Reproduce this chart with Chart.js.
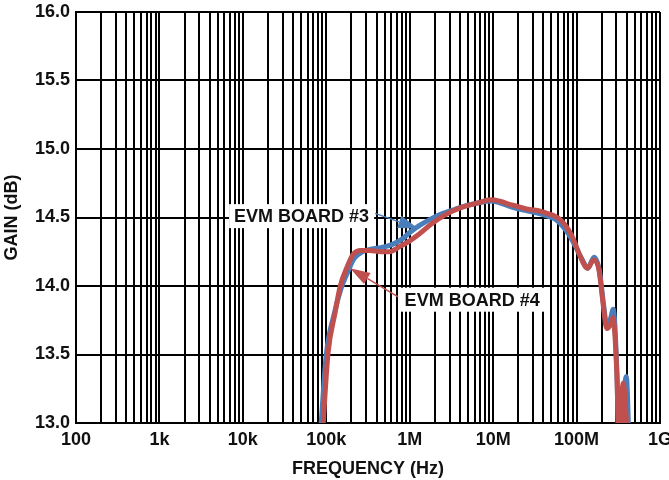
<!DOCTYPE html>
<html>
<head>
<meta charset="utf-8">
<script src="https://cdn.jsdelivr.net/npm/chart.js@4.4.1/dist/chart.umd.min.js"></script>
<style>
    html, body { margin: 0; padding: 0; background: #fff; }
</style>
</head>
<body>
<canvas id="grafico" width="669" height="480"></canvas>
<script>
//datos

const frecuenciasBoard3 = [84e3, 87e3, 100e3, 125e3, 150e3, 180e3, 215e3, 270e3, 350e3, 450e3, 600e3, 800e3, 1.0e6, 1.3e6, 1.8e6, 2.5e6, 3.5e6, 5e6, 7e6, 9.5e6, 13e6, 18e6, 25e6, 35e6, 45e6, 55e6, 65e6, 80e6, 95e6, 115e6, 137e6, 162e6, 188e6, 210e6, 232e6, 255e6, 275e6, 304e6, 322e6, 395e6, 425e6];
const gananciaBoard3 = [12.85, 13.0, 13.5, 13.8, 13.98, 14.1, 14.2, 14.25, 14.27, 14.28, 14.3, 14.34, 14.39, 14.44, 14.49, 14.53, 14.56, 14.59, 14.61, 14.62, 14.6, 14.57, 14.55, 14.53, 14.51, 14.49, 14.45, 14.38, 14.3, 14.2, 14.13, 14.21, 14.11, 13.87, 13.7, 13.76, 13.83, 13.38, 12.85, 13.34, 12.85];

const frecuenciasBoard4 = [89e3, 92e3, 105e3, 127e3, 147e3, 178e3, 209e3, 260e3, 330e3, 450e3, 560e3, 770e3, 1.0e6, 1.3e6, 1.8e6, 2.5e6, 4e6, 6.9e6, 9.1e6, 12e6, 15e6, 20e6, 26e6, 35e6, 44e6, 55e6, 65e6, 80e6, 92e6, 110e6, 135e6, 160e6, 185e6, 210e6, 230e6, 255e6, 272e6, 304e6, 322e6, 362e6, 410e6];
const gananciaBoard4 = [12.85, 13.0, 13.51, 13.8, 14.0, 14.14, 14.23, 14.26, 14.26, 14.25, 14.25, 14.29, 14.33, 14.38, 14.45, 14.51, 14.57, 14.61, 14.63, 14.62, 14.6, 14.58, 14.56, 14.55, 14.53, 14.51, 14.48, 14.41, 14.34, 14.22, 14.13, 14.19, 14.12, 13.85, 13.69, 13.72, 13.77, 13.36, 12.85, 13.29, 12.85];

const decadas = [1e2, 1e3, 1e4, 1e5, 1e6, 1e7, 1e8, 1e9];
const etiquetasX = ['100', '1k', '10k', '100k', '1M', '10M', '100M', '1G'];
const valoresY = [13.0, 13.5, 14.0, 14.5, 15.0, 15.5, 16.0];

const colorAzul = '#4a7ebb';
const colorRojo = '#c0504d';
const fuente = '"Liberation Sans", Arial, sans-serif';

//lineas de la grilla: 1..9 por cada decada
const grillaX = [];
decadas.forEach((d, i) => {
    if (i === decadas.length - 1) {
        grillaX.push(d);
        return;
    }
    for (let m = 1; m <= 9; m++) grillaX.push(m * d);
});

function armarPuntos(frecuencias, ganancias) {
    return frecuencias.map((f, i) => ({ x: f, y: ganancias[i] }));
}

//etiquetas con flecha (posiciones en unidades de datos)
const anotaciones = [
    { texto: 'EVM BOARD #3', color: colorAzul, etiqueta: [50.6e3, 14.51], desde: [385e3, 14.53], hasta: [1.26e6, 14.42] },
    { texto: 'EVM BOARD #4', color: colorRojo, etiqueta: [5.6e6, 13.9], desde: [726e3, 13.92], hasta: [193e3, 14.13] }
];

const pluginAnotaciones = {
    id: 'anotaciones',
    afterDatasetsDraw(chart) {
        const ctx = chart.ctx;
        const x = chart.scales.x;
        const y = chart.scales.y;
        ctx.save();
        ctx.font = 'bold 18px ' + fuente;
        anotaciones.forEach(a => {
            const cx = x.getPixelForValue(a.etiqueta[0]);
            const cy = y.getPixelForValue(a.etiqueta[1]);
            const ancho = ctx.measureText(a.texto).width;
            ctx.fillStyle = '#fff';
            ctx.fillRect(cx - ancho / 2 - 5, cy - 12, ancho + 10, 24);
            ctx.fillStyle = '#111';
            ctx.textAlign = 'center';
            ctx.textBaseline = 'middle';
            ctx.fillText(a.texto, cx, cy + 1);

            //flecha
            const x1 = x.getPixelForValue(a.desde[0]);
            const y1 = y.getPixelForValue(a.desde[1]);
            const x2 = x.getPixelForValue(a.hasta[0]);
            const y2 = y.getPixelForValue(a.hasta[1]);
            const ang = Math.atan2(y2 - y1, x2 - x1);
            const largo = 20;
            const medio = 6.5;
            const bx = x2 - largo * Math.cos(ang);
            const by = y2 - largo * Math.sin(ang);
            ctx.strokeStyle = a.color;
            ctx.lineWidth = 1.5;
            ctx.beginPath();
            ctx.moveTo(x1, y1);
            ctx.lineTo(bx, by);
            ctx.stroke();
            ctx.fillStyle = a.color;
            ctx.beginPath();
            ctx.moveTo(x2, y2);
            ctx.lineTo(bx + medio * Math.sin(ang), by - medio * Math.cos(ang));
            ctx.lineTo(bx - medio * Math.sin(ang), by + medio * Math.cos(ang));
            ctx.closePath();
            ctx.fill();
        });
        ctx.restore();
    }
};

const config = {
    type: 'line',
    data: {
        datasets: [{
            label: 'EVM BOARD #3',
            data: armarPuntos(frecuenciasBoard3, gananciaBoard3),
            borderColor: colorAzul,
            borderWidth: 5,
            pointRadius: 0,
            cubicInterpolationMode: 'monotone',
            fill: false,
            order: 2
        }, {
            label: 'EVM BOARD #4',
            data: armarPuntos(frecuenciasBoard4, gananciaBoard4),
            borderColor: colorRojo,
            borderWidth: 5,
            pointRadius: 0,
            cubicInterpolationMode: 'monotone',
            fill: false,
            order: 1
        }]
    },
    options: {
        responsive: false,
        animation: false,
        layout: { padding: { left: 0, right: 9, top: 12, bottom: 0 } },
        plugins: {
            legend: { display: false },
            tooltip: { enabled: false }
        },
        scales: {
            x: {
                type: 'logarithmic',
                min: 100,
                max: 1e9,
                afterBuildTicks: scale => {
                    scale.ticks = grillaX.map(v => ({ value: v }));
                },
                afterFit: scale => {
                    scale.height = 57;
                    scale.paddingLeft = 0;
                    scale.paddingRight = 0;
                },
                ticks: {
                    autoSkip: false,
                    maxRotation: 0,
                    padding: 6,
                    color: '#111',
                    font: { family: fuente, size: 18, weight: 'bold' },
                    callback: value => {
                        const i = decadas.findIndex(d => Math.abs(d - value) / d < 1e-6);
                        return i >= 0 ? etiquetasX[i] : '';
                    }
                },
                grid: { color: '#000', lineWidth: 2, drawTicks: false },
                border: { color: '#000', width: 2 },
                title: {
                    display: true,
                    text: 'FREQUENCY (Hz)',
                    color: '#111',
                    font: { family: fuente, size: 18, weight: 'bold' },
                    padding: { top: 9, bottom: 0 }
                }
            },
            y: {
                min: 13,
                max: 16,
                afterBuildTicks: scale => {
                    scale.ticks = valoresY.map(v => ({ value: v }));
                },
                afterFit: scale => {
                    scale.width = 76;
                    scale.paddingTop = 0;
                    scale.paddingBottom = 0;
                },
                ticks: {
                    padding: 6,
                    color: '#111',
                    font: { family: fuente, size: 18, weight: 'bold' },
                    callback: value => Number(value).toFixed(1)
                },
                grid: { color: '#000', lineWidth: 2, drawTicks: false },
                border: { color: '#000', width: 2 },
                title: {
                    display: true,
                    text: 'GAIN (dB)',
                    color: '#111',
                    font: { family: fuente, size: 18, weight: 'bold' },
                    padding: { top: 1, bottom: 0 }
                }
            }
        }
    },
    plugins: [pluginAnotaciones]
};

const graficoCanvas = document.getElementById('grafico');
const myChart = new Chart(graficoCanvas.getContext('2d'), config);
</script>
</body>
</html>
